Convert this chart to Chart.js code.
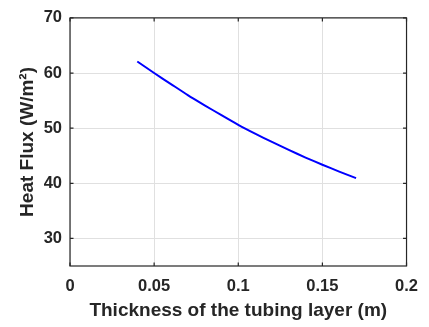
<!DOCTYPE html>
<html>
<head>
<meta charset="utf-8">
<script src="https://cdn.jsdelivr.net/npm/chart.js@4/dist/chart.umd.min.js"></script>
<style>
  html, body { margin: 0; padding: 0; background: #fff; }
  #wrap { width: 429px; height: 327px; }
</style>
</head>
<body>
<div id="wrap"><canvas id="flux-chart" width="429" height="327"></canvas></div>
<script>
// thickness (m) and heat flux (W/m^2)
const thickness = [0.04, 0.05, 0.06, 0.07, 0.08, 0.09, 0.10, 0.11, 0.12, 0.13, 0.14, 0.15, 0.16, 0.17];
const heatFlux = [62.1, 60.0, 58.0, 56.0, 54.15, 52.35, 50.6, 49.0, 47.5, 46.05, 44.67, 43.36, 42.13, 40.95];

const xTicks = [0, 0.05, 0.1, 0.15, 0.2];
const yTicks = [30, 40, 50, 60, 70];

const axisColor = '#262626';
const gridColor = '#e0e0e0';
const fontFamily = '"Liberation Sans", Arial, Helvetica, sans-serif';

// MATLAB style box with inward ticks
const boxPlugin = {
    id: 'boxPlugin',
    afterDraw(chart) {
        const { ctx, chartArea: { left, right, top, bottom }, scales: { x, y } } = chart;
        const len = 3.5;
        ctx.save();
        ctx.strokeStyle = axisColor;
        ctx.lineWidth = 1.2;
        ctx.strokeRect(left, top, right - left, bottom - top);

        ctx.beginPath();
        xTicks.forEach(v => {
            const px = x.getPixelForValue(v);
            ctx.moveTo(px, bottom);
            ctx.lineTo(px, bottom - len);
            ctx.moveTo(px, top);
            ctx.lineTo(px, top + len);
        });
        yTicks.forEach(v => {
            const py = y.getPixelForValue(v);
            ctx.moveTo(left, py);
            ctx.lineTo(left + len, py);
            ctx.moveTo(right, py);
            ctx.lineTo(right - len, py);
        });
        ctx.stroke();
        ctx.restore();
    }
};

const ctx = document.getElementById('flux-chart').getContext('2d');

new Chart(ctx, {
    type: 'line',
    data: {
        datasets: [{
            data: thickness.map((t, i) => ({ x: t, y: heatFlux[i] })),
            borderColor: '#0000ff',
            borderWidth: 2,
            pointRadius: 0,
            tension: 0.2,
            fill: false
        }]
    },
    options: {
        responsive: false,
        animation: false,
        layout: {
            padding: { left: 0, right: 17, top: 14, bottom: 0 }
        },
        plugins: {
            legend: { display: false },
            tooltip: { enabled: false }
        },
        scales: {
            x: {
                type: 'linear',
                min: 0,
                max: 0.2,
                afterBuildTicks: scale => { scale.ticks = xTicks.map(v => ({ value: v })); },
                afterFit: scale => { scale.height = 61; },
                grid: { color: gridColor, drawTicks: false },
                border: { display: false },
                ticks: {
                    padding: 11,
                    color: axisColor,
                    font: { family: fontFamily, size: 16.5, weight: 'bold' },
                    callback: v => String(v)
                },
                title: {
                    display: true,
                    text: 'Thickness of the tubing layer (m)',
                    color: axisColor,
                    font: { family: fontFamily, size: 19, weight: 'bold' },
                    padding: { top: 0, bottom: 5 }
                }
            },
            y: {
                type: 'linear',
                min: 25,
                max: 70,
                afterBuildTicks: scale => { scale.ticks = yTicks.map(v => ({ value: v })); },
                afterFit: scale => { scale.width = 70; },
                grid: { color: gridColor, drawTicks: false },
                border: { display: false },
                ticks: {
                    padding: 8,
                    color: axisColor,
                    font: { family: fontFamily, size: 16.5, weight: 'bold' }
                },
                title: {
                    display: true,
                    text: 'Heat Flux (W/m²)',
                    color: axisColor,
                    font: { family: fontFamily, size: 19, weight: 'bold' },
                    padding: { top: 16, bottom: 0 }
                }
            }
        }
    },
    plugins: [boxPlugin]
});
</script>
</body>
</html>
